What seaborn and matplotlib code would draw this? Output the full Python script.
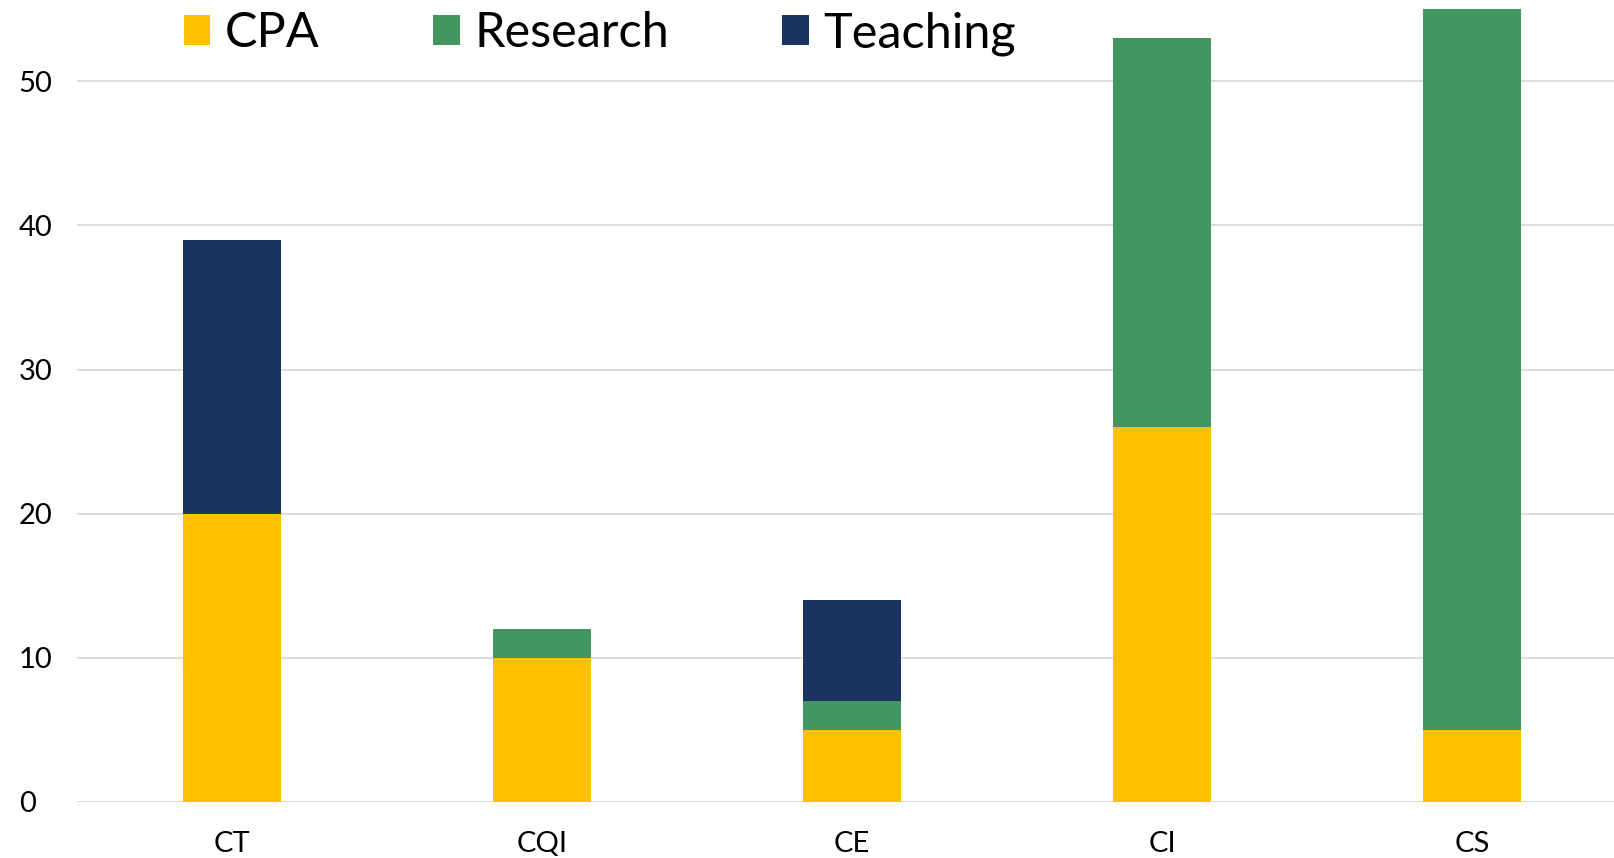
import matplotlib.pyplot as plt
import seaborn as sns
import numpy as np
from matplotlib.patches import Patch

categories = ["CT", "CQI", "CE", "CI", "CS"]
cpa = [20, 10, 5, 26, 5]
research = [0, 2, 2, 27, 50]
teaching = [19, 0, 7, 0, 0]

series_names = ["CPA", "Research", "Teaching"]
series_colors = ["#FFC000", "#43965F", "#1B3461"]


def plot_stacked(ax):
    bottom = np.zeros(len(categories))
    for name, values, color in zip(series_names, [cpa, research, teaching], series_colors):
        sns.barplot(x=categories, y=values, bottom=bottom, color=color, saturation=1,
                    width=0.316, ax=ax, linewidth=0, zorder=3)
        bottom = bottom + np.array(values)


def main():
    sns.set_style("white")
    plt.rcParams['font.family'] = ['Lato', 'DejaVu Sans']

    fig = plt.figure(figsize=(16.14, 8.58), dpi=100)
    ax = fig.add_axes([0.0477, 0.0655, 0.9523, 0.9237])
    plot_stacked(ax)

    ax.set_ylim(0, 55)
    ax.set_xlim(-0.5, 4.458)
    ax.set_yticks([0, 10, 20, 30, 40, 50])
    ax.yaxis.grid(True, color="#D9D9D9", linewidth=1.3, zorder=0)
    ax.set_axisbelow(True)
    for s in ax.spines.values():
        s.set_visible(False)
    ax.tick_params(axis='both', length=0, labelsize=21, colors='black')
    ax.tick_params(axis='x', pad=21)
    ax.tick_params(axis='y', pad=42)
    for lab in ax.get_yticklabels():
        lab.set_horizontalalignment('left')
    ax.set_xlabel("")
    ax.set_ylabel("")

    handles = [Patch(facecolor=c, edgecolor='none') for c in series_colors]
    fig.legend(handles, series_names, loc='upper left', bbox_to_anchor=(0.0867, 1.038),
               ncol=3, frameon=False, fontsize=35, labelcolor='black',
               handlelength=0.55, handleheight=0.55,
               handletextpad=0.3, columnspacing=2.33)

    fig.savefig("out.png", dpi=100)


if __name__ == "__main__":
    main()
